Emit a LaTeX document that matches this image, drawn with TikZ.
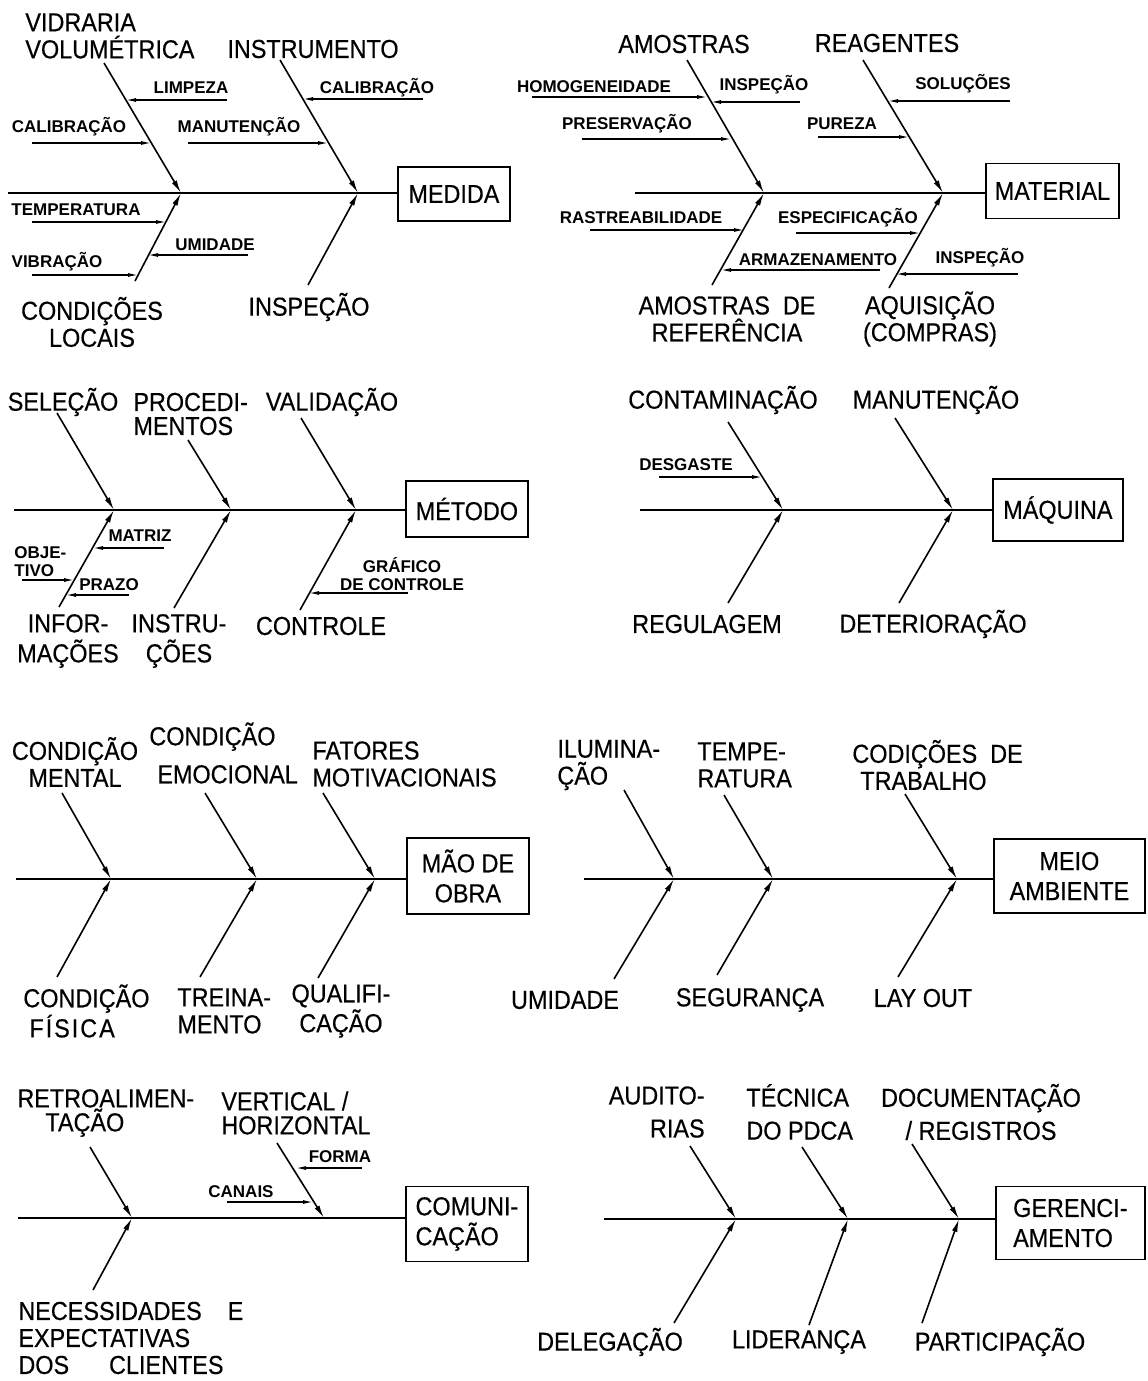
\documentclass[tikz,border=0pt]{standalone}
\usepackage{fontspec}
\setmainfont{Liberation Sans}[FakeStretch=0.9, FakeBold=0.4]
\newfontfamily\twigfont{Liberation Sans}
\usetikzlibrary{arrows.meta}

\tikzstyle{effect} = [rectangle, draw=black, line width=0.9pt, anchor=west, align=center, inner sep=2pt, font=\fontsize{13}{15}\selectfont]
\tikzstyle{cause} = [align=center, inner sep=0pt, font=\fontsize{13}{13.5}\selectfont]
\tikzstyle{subcause} = [align=center, inner sep=0pt, font=\twigfont\bfseries\fontsize{8.5}{9}\selectfont]
\tikzstyle{spine} = [line width=1.1pt]
\tikzstyle{bone} = [line width=0.8pt, -{Latex[length=6.5pt,width=2.8pt]}]
\tikzstyle{twig} = [line width=0.6pt, -{Latex[length=5pt,width=2pt]}]

\begin{document}
\begin{tikzpicture}[x=0.5pt, y=-0.5pt]
	\path [use as bounding box, fill=white] (0,0) rectangle (1147,1381);

	% medida
	\node (medida) [effect, minimum width=56pt, minimum height=27pt] at (397,194) {MEDIDA};
	\coordinate (med0) at (8,193);
	\coordinate (medj1) at (181,193);
	\coordinate (medj2) at (358,193);
	\coordinate (medt1) at (104,63);
	\coordinate (medt2) at (280,60);
	\coordinate (medb1) at (135,281);
	\coordinate (medb2) at (308,285);
	\draw [spine] (med0) -- (med0 -| medida.west);
	\draw [bone] (medt1) -- (medj1);
	\draw [bone] (medt2) -- (medj2);
	\draw [bone] (medb1) -- (medj1);
	\draw [bone] (medb2) -- (medj2);
	\node (vidraria) [cause, anchor=west, align=left] at (25,36) {VIDRARIA\\VOLUMÉTRICA};
	\node (instrumento) [cause] at (313,49) {INSTRUMENTO};
	\node (condicoes) [cause] at (92,322) {CONDIÇÕES\\LOCAIS};
	\node (inspecao) [cause] at (309,307) {INSPEÇÃO};
	\node (limpeza) [subcause] at (191,88) {LIMPEZA};
	\draw [twig] (227,100) -- (126,100);
	\node (calib1) [subcause] at (69,127) {CALIBRAÇÃO};
	\draw [twig] (32,143) -- (151,143);
	\node (manut1) [subcause] at (239,127) {MANUTENÇÃO};
	\draw [twig] (188,143) -- (328,143);
	\node (calib2) [subcause] at (377,88) {CALIBRAÇÃO};
	\draw [twig] (423,99) -- (303,99);
	\node (temper1) [subcause] at (76,210) {TEMPERATURA};
	\draw [twig] (32,222) -- (166,222);
	\node (umid1) [subcause] at (215,245) {UMIDADE};
	\draw [twig] (248,255) -- (148,255);
	\node (vibracao) [subcause] at (57,262) {VIBRAÇÃO};
	\draw [twig] (32,275) -- (138,275);

	% material
	\node (material) [effect, minimum width=66.5pt, minimum height=27.5pt] at (985,191) {MATERIAL};
	\coordinate (mat0) at (635,193);
	\coordinate (matj1) at (764,193);
	\coordinate (matj2) at (943,193);
	\coordinate (matt1) at (687,60);
	\coordinate (matt2) at (863,60);
	\coordinate (matb1) at (712,285);
	\coordinate (matb2) at (889,288);
	\draw [spine] (mat0) -- (mat0 -| material.west);
	\draw [bone] (matt1) -- (matj1);
	\draw [bone] (matt2) -- (matj2);
	\draw [bone] (matb1) -- (matj1);
	\draw [bone] (matb2) -- (matj2);
	\node (amostras) [cause] at (684,44) {AMOSTRAS};
	\node (reagentes) [cause] at (887,43) {REAGENTES};
	\node (referencia) [cause] at (727,319) {AMOSTRAS\enspace DE\\REFERÊNCIA};
	\node (aquisicao) [cause] at (930,319) {AQUISIÇÃO\\(COMPRAS)};
	\node (homog) [subcause] at (594,87) {HOMOGENEIDADE};
	\draw [twig] (532,97) -- (707,97);
	\node (insp1) [subcause] at (764,85) {INSPEÇÃO};
	\draw [twig] (800,102) -- (711,102);
	\node (preserv) [subcause] at (627,124) {PRESERVAÇÃO};
	\draw [twig] (582,139) -- (731,139);
	\node (solucoes) [subcause] at (963,84) {SOLUÇÕES};
	\draw [twig] (1010,101) -- (888,101);
	\node (pureza) [subcause] at (842,124) {PUREZA};
	\draw [twig] (818,137) -- (909,137);
	\node (rastreab) [subcause] at (641,218) {RASTREABILIDADE};
	\draw [twig] (590,230) -- (744,230);
	\node (especif) [subcause] at (848,218) {ESPECIFICAÇÃO};
	\draw [twig] (796,233) -- (920,233);
	\node (armazen) [subcause] at (818,260) {ARMAZENAMENTO};
	\draw [twig] (880,270) -- (721,270);
	\node (insp2) [subcause] at (980,258) {INSPEÇÃO};
	\draw [twig] (1018,274) -- (896,274);

	% metodo
	\node (metodo) [effect, minimum width=61pt, minimum height=28pt] at (405,509) {MÉTODO};
	\coordinate (met0) at (14,510);
	\coordinate (metj1) at (114,510);
	\coordinate (metj2) at (231,510);
	\coordinate (metj3) at (356,510);
	\coordinate (mett1) at (57,413);
	\coordinate (mett2) at (188,440);
	\coordinate (mett3) at (301,418);
	\coordinate (metb1) at (59,607);
	\coordinate (metb2) at (174,608);
	\coordinate (metb3) at (300,610);
	\draw [spine] (met0) -- (met0 -| metodo.west);
	\draw [bone] (mett1) -- (metj1);
	\draw [bone] (mett2) -- (metj2);
	\draw [bone] (mett3) -- (metj3);
	\draw [bone] (metb1) -- (metj1);
	\draw [bone] (metb2) -- (metj2);
	\draw [bone] (metb3) -- (metj3);
	\node (selecao) [cause] at (63,402) {SELEÇÃO};
	\node (proced) [cause, anchor=west, align=left] at (133,414) {PROCEDI-\\[-1.5pt]MENTOS};
	\node (validacao) [cause] at (332,402) {VALIDAÇÃO};
	\node (informacoes) [cause] at (68,641) {INFOR-\\[1.5pt]MAÇÕES};
	\node (instrucoes) [cause] at (179,641) {INSTRU-\\[1.5pt]ÇÕES};
	\node (controle) [cause] at (321,626) {CONTROLE};
	\node (matriz) [subcause] at (140,536) {MATRIZ};
	\draw [twig] (164,548) -- (93,548);
	\node (objetivo) [subcause, anchor=west, align=left] at (14,562) {OBJE-\\TIVO};
	\draw [twig] (22,580) -- (74,580);
	\node (prazo) [subcause] at (109,585) {PRAZO};
	\draw [twig] (129,595) -- (66,595);
	\node (grafico) [subcause] at (402,574) {GRÁFICO\\DE CONTROLE};
	\draw [twig] (408,593) -- (309,593);

	% maquina
	\node (maquina) [effect, minimum width=65pt, minimum height=31pt] at (992,510) {MÁQUINA};
	\coordinate (maq0) at (640,510);
	\coordinate (maqj1) at (783,510);
	\coordinate (maqj2) at (953,510);
	\coordinate (maqt1) at (728,422);
	\coordinate (maqt2) at (895,418);
	\coordinate (maqb1) at (728,603);
	\coordinate (maqb2) at (899,603);
	\draw [spine] (maq0) -- (maq0 -| maquina.west);
	\draw [bone] (maqt1) -- (maqj1);
	\draw [bone] (maqt2) -- (maqj2);
	\draw [bone] (maqb1) -- (maqj1);
	\draw [bone] (maqb2) -- (maqj2);
	\node (contamin) [cause] at (723,400) {CONTAMINAÇÃO};
	\node (manut2) [cause] at (936,400) {MANUTENÇÃO};
	\node (regulagem) [cause] at (707,624) {REGULAGEM};
	\node (deterior) [cause] at (933,624) {DETERIORAÇÃO};
	\node (desgaste) [subcause] at (686,465) {DESGASTE};
	\draw [twig] (659,477) -- (762,477);

	% mao de obra
	\node (maodeobra) [effect, minimum width=61pt, minimum height=38pt] at (406,876) {MÃO DE\\OBRA};
	\coordinate (mao0) at (16,879);
	\coordinate (maoj1) at (111,879);
	\coordinate (maoj2) at (257,879);
	\coordinate (maoj3) at (375,879);
	\coordinate (maot1) at (62,793);
	\coordinate (maot2) at (205,793);
	\coordinate (maot3) at (323,793);
	\coordinate (maob1) at (57,977);
	\coordinate (maob2) at (200,977);
	\coordinate (maob3) at (318,978);
	\draw [spine] (mao0) -- (mao0 -| maodeobra.west);
	\draw [bone] (maot1) -- (maoj1);
	\draw [bone] (maot2) -- (maoj2);
	\draw [bone] (maot3) -- (maoj3);
	\draw [bone] (maob1) -- (maoj1);
	\draw [bone] (maob2) -- (maoj2);
	\draw [bone] (maob3) -- (maoj3);
	\node (mental) [cause] at (75,762) {CONDIÇÃO\\MENTAL};
	\node (emocional) [cause, anchor=west, align=left] at (149,753) {CONDIÇÃO\\[5.5pt]\hspace*{4pt}EMOCIONAL};
	\node (fatores) [cause, anchor=west, align=left] at (312,764) {FATORES\\MOTIVACIONAIS};
	\node (fisica) [cause, anchor=west, align=left] at (23,1011) {CONDIÇÃO\\\hspace*{3pt}F\kern1ptÍ\kern1ptS\kern1ptI\kern1ptC\kern1ptA};
	\node (treinamento) [cause, anchor=west, align=left] at (177,1011) {TREINA-\\MENTO};
	\node (qualific) [cause] at (341,1011) {QUALIFI-\\CAÇÃO};

	% meio ambiente
	\node (meio) [effect, minimum width=75.5pt, minimum height=37pt] at (993,876) {MEIO\\AMBIENTE};
	\coordinate (amb0) at (584,879);
	\coordinate (ambj1) at (674,879);
	\coordinate (ambj2) at (773,879);
	\coordinate (ambj3) at (957,879);
	\coordinate (ambt1) at (624,790);
	\coordinate (ambt2) at (724,795);
	\coordinate (ambt3) at (905,794);
	\coordinate (ambb1) at (614,979);
	\coordinate (ambb2) at (717,975);
	\coordinate (ambb3) at (898,977);
	\draw [spine] (amb0) -- (amb0 -| meio.west);
	\draw [bone] (ambt1) -- (ambj1);
	\draw [bone] (ambt2) -- (ambj2);
	\draw [bone] (ambt3) -- (ambj3);
	\draw [bone] (ambb1) -- (ambj1);
	\draw [bone] (ambb2) -- (ambj2);
	\draw [bone] (ambb3) -- (ambj3);
	\node (iluminacao) [cause, anchor=west, align=left] at (557,765) {ILUMINA-\\ÇÃO};
	\node (temper2) [cause, anchor=west, align=left] at (697,765) {TEMPE-\\RATURA};
	\node (codicoes) [cause, anchor=west, align=left] at (852,765) {CODIÇÕES\enspace DE\\\hspace*{4pt}TRABALHO};
	\node (umid2) [cause] at (565,1000) {UMIDADE};
	\node (seguranca) [cause] at (750,1000) {SEGURANÇA};
	\node (layout) [cause] at (923,998) {LAY OUT};

	% comunicacao
	\node (comunic) [effect, align=left, minimum width=61pt, minimum height=37.5pt] at (405,1224) {COMUNI-\\CAÇÃO};
	\coordinate (com0) at (18,1218);
	\coordinate (comj1) at (132,1218);
	\coordinate (comj2) at (324,1218);
	\coordinate (comt1) at (90,1147);
	\coordinate (comt2) at (277,1143);
	\coordinate (comb1) at (93,1290);
	\draw [spine] (com0) -- (com0 -| comunic.west);
	\draw [bone] (comt1) -- (comj1);
	\draw [bone] (comt2) -- (comj2);
	\draw [bone] (comb1) -- (comj1);
	\node (retroal) [cause, anchor=west, align=left] at (17,1113) {RETROALIMEN-\\[-1.5pt]\hspace*{14pt}TAÇÃO};
	\node (vertical) [cause, anchor=west, align=left] at (221,1113) {VERTICAL /\\[-1.5pt]HORIZONTAL};
	\node (necessid) [cause, anchor=west, align=left] at (18,1338) {NECESSIDADES\quad E\\EXPECTATIVAS\\DOS\hspace{20pt}CLIENTES};
	\node (forma) [subcause] at (340,1157) {FORMA};
	\draw [twig] (362,1168) -- (296,1168);
	\node (canais) [subcause] at (241,1192) {CANAIS};
	\draw [twig] (227,1202) -- (313,1202);

	% gerenciamento
	\node (gerenc) [effect, align=left, minimum width=74.5pt, minimum height=36.5pt] at (995,1223) {GERENCI-\\AMENTO};
	\coordinate (ger0) at (604,1219);
	\coordinate (gerj1) at (736,1219);
	\coordinate (gerj2) at (848,1219);
	\coordinate (gerj3) at (959,1219);
	\coordinate (gert1) at (690,1146);
	\coordinate (gert2) at (802,1147);
	\coordinate (gert3) at (912,1144);
	\coordinate (gerb1) at (674,1323);
	\coordinate (gerb2) at (809,1325);
	\coordinate (gerb3) at (922,1323);
	\draw [spine] (ger0) -- (ger0 -| gerenc.west);
	\draw [bone] (gert1) -- (gerj1);
	\draw [bone] (gert2) -- (gerj2);
	\draw [bone] (gert3) -- (gerj3);
	\draw [bone] (gerb1) -- (gerj1);
	\draw [bone] (gerb2) -- (gerj2);
	\draw [bone] (gerb3) -- (gerj3);
	\node (auditorias) [cause, anchor=east, align=right] at (705,1112) {AUDITO-\\[3pt]RIAS};
	\node (tecnica) [cause, anchor=west, align=left] at (746,1112) {TÉCNICA\\[3pt]DO PDCA};
	\node (document) [cause] at (981,1112) {DOCUMENTAÇÃO\\[3pt]/ REGISTROS};
	\node (delegacao) [cause] at (610,1342) {DELEGAÇÃO};
	\node (lideranca) [cause] at (799,1342) {LIDERANÇA};
	\node (particip) [cause] at (1000,1342) {PARTICIPAÇÃO};
\end{tikzpicture}
\end{document}
